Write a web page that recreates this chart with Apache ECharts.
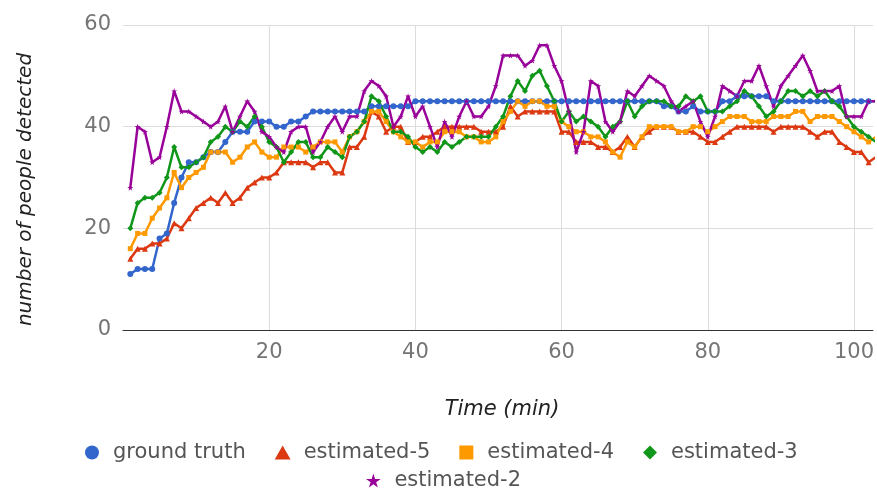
<!DOCTYPE html>
<html>
<head>
<meta charset="utf-8">
<script src="https://cdn.jsdelivr.net/npm/echarts@6/dist/echarts.min.js"></script>
<style>
html,body{margin:0;padding:0;background:#fff;}
#c{width:877px;height:491px;}
</style>
</head>
<body>
<div id="c"></div>
<script>
// time in minutes (1..103)
var times = [];
for (var i = 1; i <= 103; i++) times.push(i);

var groundTruth = [
 11,12,12,12,18,19,25,30,33,33,
 34,35,35,37,39,39,39,41,41,41,
 40,40,41,41,42,43,43,43,43,43,
 43,43,43,44,44,44,44,44,44,45,
 45,45,45,45,45,45,45,45,45,45,
 45,45,45,45,45,45,45,45,45,45,
 45,45,45,45,45,45,45,45,45,45,
 45,45,45,44,44,43,43,44,43,43,
 43,45,45,46,46,46,46,46,45,45,
 45,45,45,45,45,45,45,45,45,45,
 45,45,45
];
var estimated5 = [
 14,16,16,17,17,18,21,20,22,24,
 25,26,25,27,25,26,28,29,30,30,
 31,33,33,33,33,32,33,33,31,31,
 36,36,38,43,42,39,40,40,37,37,
 38,38,39,40,40,40,40,40,39,39,
 39,40,44,42,43,43,43,43,43,39,
 39,37,37,37,36,36,35,36,38,36,
 38,39,40,40,40,39,39,39,38,37,
 37,38,39,40,40,40,40,40,39,40,
 40,40,40,39,38,39,39,37,36,35,
 35,33,34
];
var estimated4 = [
 16,19,19,22,24,26,31,28,30,31,
 32,35,35,35,33,34,36,37,35,34,
 34,36,36,36,35,36,37,37,37,35,
 38,39,41,43,43,41,39,38,37,37,
 36,37,37,39,39,39,38,38,37,37,
 38,41,43,45,44,45,45,44,44,41,
 40,39,39,38,38,37,35,34,37,36,
 38,40,40,40,40,39,39,40,40,39,
 40,41,42,42,42,41,41,41,42,42,
 42,43,43,41,42,42,42,41,40,39,
 38,37,38
];
var estimated3 = [
 20,25,26,26,27,30,36,32,32,33,
 34,37,38,40,39,41,40,42,40,37,
 36,33,35,37,37,34,34,36,35,34,
 38,39,41,46,45,42,39,39,38,36,
 35,36,35,37,36,37,38,38,38,38,
 40,42,46,49,47,50,51,48,45,41,
 43,41,42,41,40,38,40,41,45,42,
 44,45,45,45,44,44,46,45,46,43,
 43,43,44,45,47,46,44,42,43,45,
 47,47,46,47,46,47,45,44,42,40,
 39,38,37
];
var estimated2 = [
 28,40,39,33,34,40,47,43,43,42,
 41,40,41,44,39,42,45,43,39,38,
 36,35,39,40,40,35,37,40,42,39,
 42,42,47,49,48,46,40,42,46,42,
 44,40,36,41,38,42,45,42,42,44,
 48,54,54,54,52,53,56,56,52,49,
 43,35,39,49,48,41,39,41,47,46,
 48,50,49,48,45,43,44,45,41,38,
 42,48,47,46,49,49,52,48,44,48,
 50,52,54,51,47,47,47,48,42,42,
 42,45,45
];
var seriesNames = ['ground truth','estimated-5','estimated-4','estimated-3','estimated-2'];
var xTicks = [20,40,60,80,100];
var yTicks = [0,20,40,60];

var STAR = 'path://M50,0 L61,35 L98,35 L68,57 L79,91 L50,70 L21,91 L32,57 L2,35 L39,35 Z';
var colors = ['#3366cc','#dc3912','#ff9900','#109618','#990099'];
var symbols = ['circle','triangle','rect','diamond',STAR];
var legendIcons = [
  'path://M50,0 A50,50 0 1 1 49.99,0 Z',
  'path://M50,0 L100,88 L0,88 Z',
  'path://M0,0 L100,0 L100,100 L0,100 Z',
  'path://M50,0 L100,50 L50,100 L0,50 Z',
  STAR
];
var sizes = [6,6,5,6,6];
var allData = [groundTruth, estimated5, estimated4, estimated3, estimated2];

function pairs(arr){ return arr.map(function(v,i){ return [times[i], v]; }); }

var series = allData.map(function(d, k){
  return {
    name: seriesNames[k], type: 'line', data: pairs(d),
    symbol: symbols[k], symbolSize: sizes[k], showSymbol: true,
    lineStyle: {width: 2.5, color: colors[k]},
    itemStyle: {color: colors[k]},
    clip: true, animation: false
  };
});

var chart = echarts.init(document.getElementById('c'), null, {renderer:'canvas'});
var font = '"DejaVu Sans", Roboto, sans-serif';
chart.setOption({
  backgroundColor: '#fff',
  animation: false,
  color: colors,
  grid: {left: 123, right: 0, top: 25, bottom: 161, containLabel: false},
  xAxis: {
    type: 'value', min: 0, max: 102.6, interval: 20,
    name: 'Time (min)', nameLocation: 'middle', nameGap: 69,
    nameTextStyle: {fontFamily: font, fontStyle: 'italic', fontSize: 21, color: '#222', padding: [0, 0, 0, 8]},
    axisLine: {show: true, lineStyle: {color: '#333', width: 1}},
    axisTick: {show: false},
    axisLabel: {fontFamily: font, fontSize: 21, color: '#757575', margin: 12,
      showMinLabel: false, showMaxLabel: false,
      formatter: function(v){ return xTicks.indexOf(v) >= 0 ? String(v) : ''; }},
    splitLine: {show: true, showMinLine: false, showMaxLine: false, lineStyle: {color: '#dcdcdc', width: 1}}
  },
  yAxis: {
    type: 'value', min: 0, max: 60, interval: 20,
    name: 'number of people detected', nameLocation: 'middle', nameGap: 87,
    nameTextStyle: {fontFamily: font, fontStyle: 'italic', fontSize: 20, color: '#222', padding: [0, 24, 0, 0]},
    axisLine: {show: false}, axisTick: {show: false},
    axisLabel: {fontFamily: font, fontSize: 21, color: '#757575', margin: 12,
      formatter: function(v){ return yTicks.indexOf(v) >= 0 ? String(v) : ''; }},
    splitLine: {show: true, lineStyle: {color: '#dcdcdc', width: 1}}
  },
  legend: [{
    data: seriesNames.slice(0,4).map(function(n,k){ return {name:n, icon: legendIcons[k]}; }),
    top: 437, left: 80, itemWidth: 32, itemHeight: 14, itemGap: 29, symbolKeepAspect: true,
    textStyle: {fontFamily: font, fontSize: 21, color: '#555'}
  },{
    data: [{name: seriesNames[4], icon: STAR}],
    top: 465, left: 361, itemWidth: 32, itemHeight: 14, symbolKeepAspect: true,
    textStyle: {fontFamily: font, fontSize: 21, color: '#555'}
  }],
  series: series
});
</script>
</body>
</html>
